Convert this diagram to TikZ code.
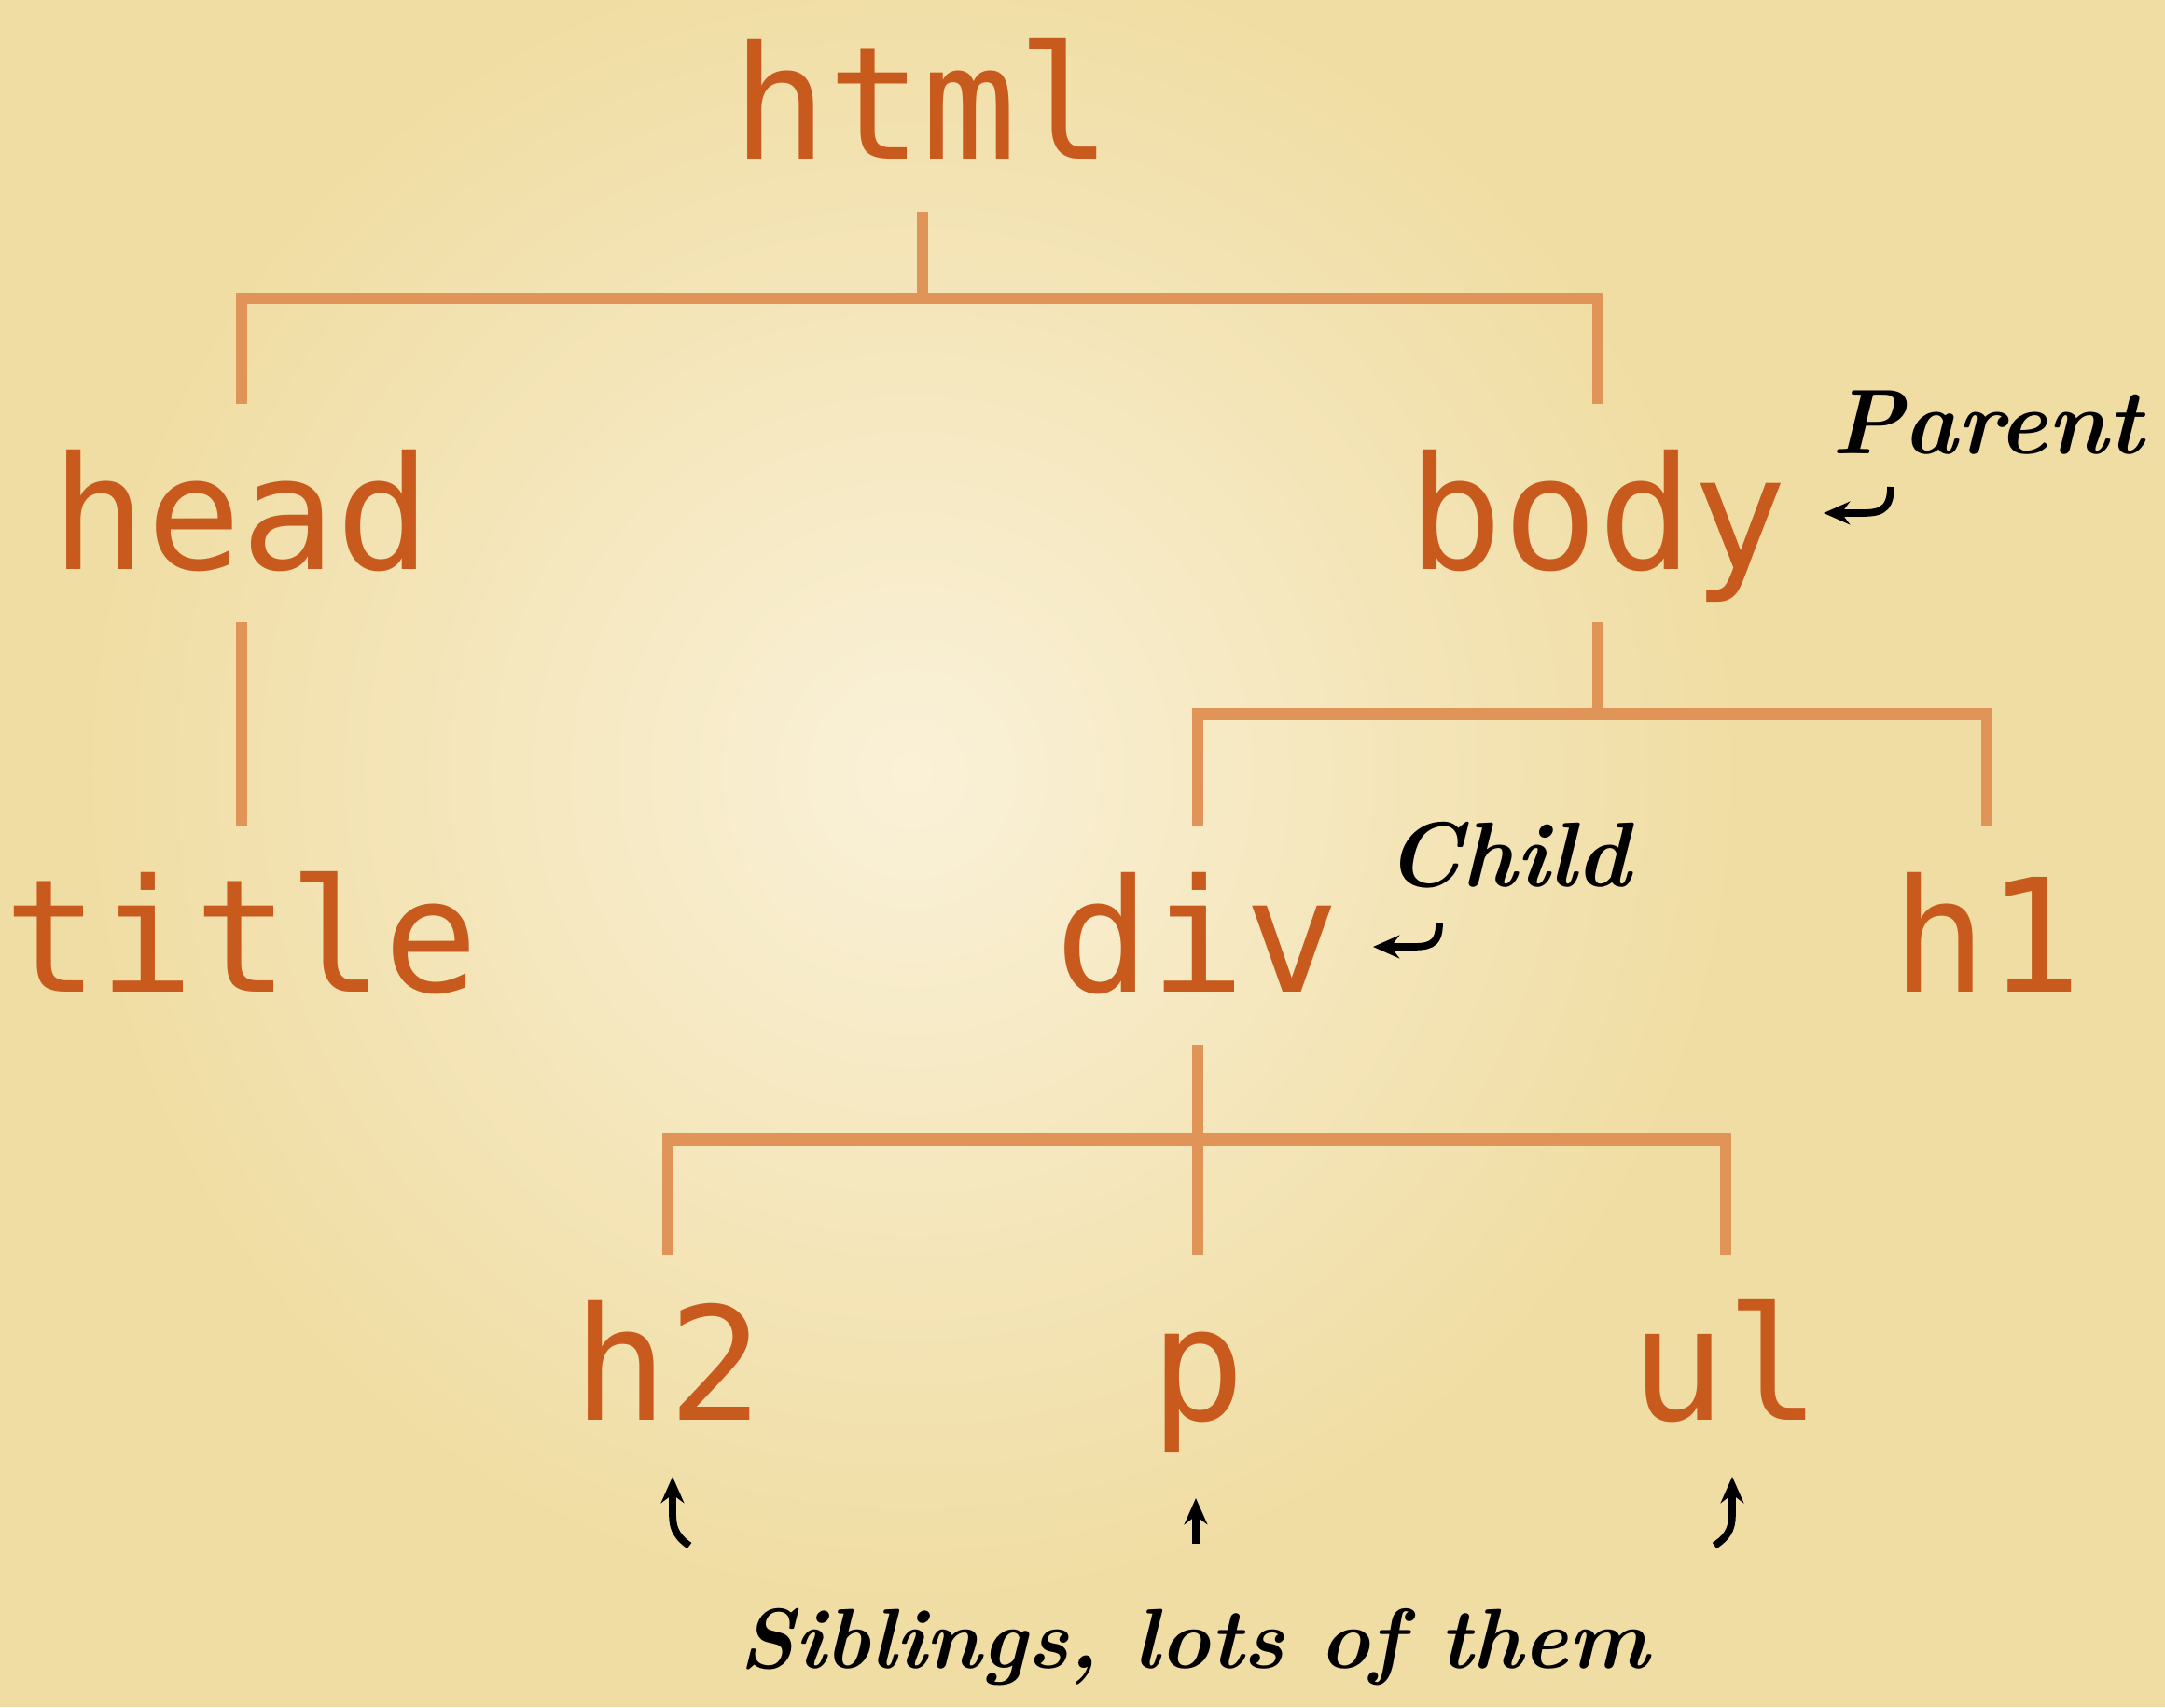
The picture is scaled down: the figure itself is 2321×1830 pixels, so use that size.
\documentclass[tikz,border=0pt]{standalone}
\usepackage{fontspec}
\usepackage{xcolor}
\usepackage{tikz}
\usetikzlibrary{arrows.meta, calc}
\newfontfamily\tagfont{DejaVu Sans Mono}
\definecolor{paper}{RGB}{240,221,163}
\definecolor{glow}{RGB}{250,241,216}
\definecolor{tagorange}{RGB}{201,90,30}
\definecolor{branchorange}{RGB}{224,148,88}
\tikzstyle{branch}  = [line width=3.6pt, branchorange]
\tikzstyle{pointer} = [line width=2.2pt, -{Stealth[length=8pt,width=7pt]}]
\tikzstyle{tag}     = [font=\tagfont\fontsize{48}{58}\selectfont, text=tagorange, anchor=base,
                       text height=44pt, text depth=10pt, inner sep=6pt]
\tikzstyle{note}    = [font=\bfseries\itshape\fontsize{28}{34}\selectfont, anchor=base, inner sep=0pt]

\begin{document}
\begin{tikzpicture}[x=0.01cm, y=-0.01cm]
    % paper
    \useasboundingbox (0,0) rectangle (2321,1830);
    \begin{scope}
        \clip (0,0) rectangle (2321,1830);
        \fill[paper] (0,0) rectangle (2321,1830);
        \shade[inner color=glow, outer color=paper] (977,829) circle[radius=9cm];
    \end{scope}

    % tags
    \node (html)  at (989,  170)  [tag] {html};
    \node (head)  at (259,  610)  [tag] {head};
    \node (body)  at (1713, 610)  [tag] {body};
    \node (title) at (259,  1063) [tag] {title};
    \node (div)   at (1284, 1063) [tag] {div};
    \node (hone)  at (2130, 1063) [tag] {h1};
    \node (htwo)  at (716,  1522) [tag] {h2};
    \node (para)  at (1284, 1522) [tag] {p};
    \node (ulist) at (1850, 1522) [tag] {ul};

    % tree
    \coordinate (j1) at ($(html.south)!0.45!(head.north)$);
    \coordinate (j2) at ($(body.south)!0.45!(div.north)$);
    \coordinate (j3) at ($(div.south)!0.45!(htwo.north)$);
    \draw [branch] (html.south) -- (html.south |- j1);
    \draw [branch] (head.north) -- (head.north |- j1) -- (body.north |- j1) -- (body.north);
    \draw [branch] (head.south) -- (title.north);
    \draw [branch] (body.south) -- (body.south |- j2);
    \draw [branch] (div.north) -- (div.north |- j2) -- (hone.north |- j2) -- (hone.north);
    \draw [branch] (div.south) -- (para.north);
    \draw [branch] (htwo.north) -- (htwo.north |- j3) -- (ulist.north |- j3) -- (ulist.north);

    % notes
    \node (parent)   at (2130, 486)  [note] {Parent};
    \node (child)    at (1617, 950)  [note] {Child};
    \node (siblings) at (1280, 1788) [note, font=\bfseries\itshape\fontsize{26}{32}\selectfont]
          {Siblings, lots of them};

    \coordinate (parent tail) at (2027, 522);
    \coordinate (parent tip)  at (1955, 550);
    \coordinate (child tail)  at (1543, 990);
    \coordinate (child tip)   at (1472, 1015);
    \coordinate (htwo tail)   at (739,  1657);
    \coordinate (htwo tip)    at (721,  1583);
    \coordinate (para tail)   at (1282, 1655);
    \coordinate (para tip)    at (1282, 1606);
    \coordinate (ulist tail)  at (1838, 1657);
    \coordinate (ulist tip)   at (1857, 1583);

    \draw [pointer] (parent tail) .. controls (2027,550) and (2012,550) .. (1992,550) -- (parent tip);
    \draw [pointer] (child tail) .. controls (1543,1015) and (1530,1015) .. (1510,1015) -- (child tip);
    \draw [pointer] (htwo tail) .. controls (722,1645) and (721,1635) .. (721,1620) -- (htwo tip);
    \draw [pointer] (para tail) -- (para tip);
    \draw [pointer] (ulist tail) .. controls (1856,1645) and (1857,1635) .. (1857,1620) -- (ulist tip);
\end{tikzpicture}
\end{document}
